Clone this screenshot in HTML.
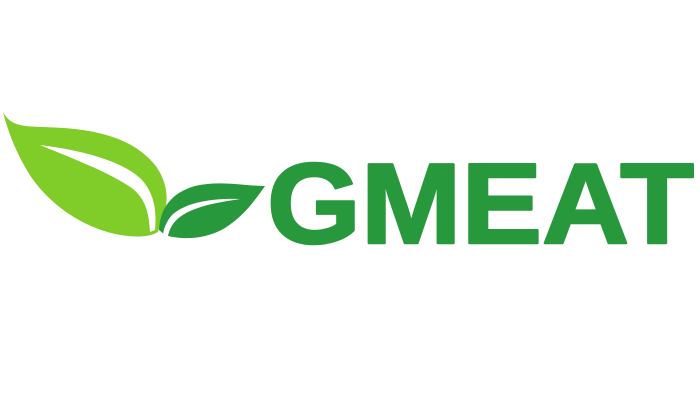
<!DOCTYPE html>
<html><head><meta charset="utf-8"><style>
html,body{margin:0;padding:0;background:#fff;width:700px;height:400px;overflow:hidden}
</style></head><body>
<svg width="700" height="400" viewBox="0 0 700 400">
  <path fill="#80cc28"
    d="M3,112 C10,125 20,126 40,127 C90,128 130,135 155,165 C168,182 168,200 165,210 L158,232 C150,237 138,237 128,236 C88,232 48,205 28,172 C16,152 8,132 3,112 Z"/>
  <path fill="#fff"
    d="M40,145 C80,150 120,160 140,178 C154,192 157,210 155,230 L150,232 C149,212 145,199 133,189 C111,173 76,160 40,145 Z"/>
  <path fill="#28983c"
    d="M159,230 C160,210 170,193 195,186 C220,180 245,186 265,186 C255,200 245,215 225,228 C205,240 180,240 165,235 Z"/>
  <path fill="#fff"
    d="M240,199 C210,198 185,203 172,215 C166,222 163,230 163,236 L168,236 C170,226 176,218 188,212 C205,204 222,202 240,199 Z"/>
  <text x="267" y="243" textLength="427" lengthAdjust="spacingAndGlyphs"
    font-family="Liberation Sans, sans-serif" font-weight="bold" font-size="114" fill="#28983c" stroke="#28983c" stroke-width="2.5" stroke-linejoin="round">GMEAT</text>
</svg>
</body></html>
